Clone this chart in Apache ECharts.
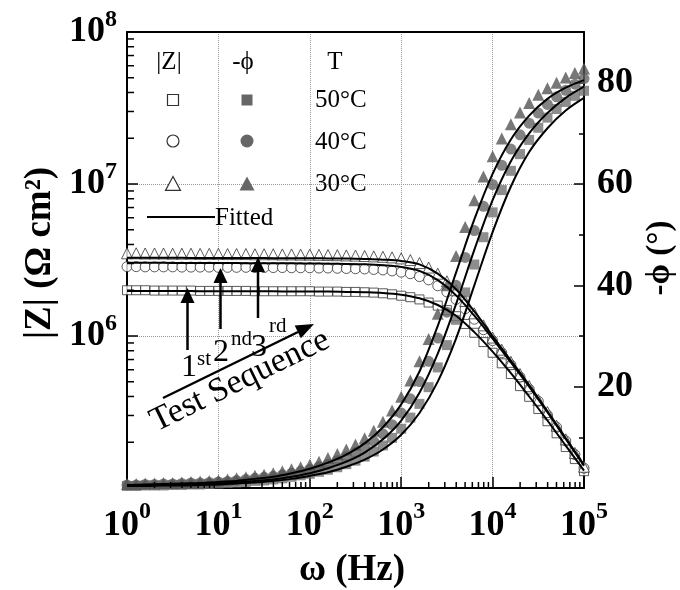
<!DOCTYPE html>
<html>
<head>
<meta charset="utf-8">
<script src="https://cdn.jsdelivr.net/npm/echarts@6/dist/echarts.min.js"></script>
<style>
  html, body { margin: 0; padding: 0; background: #fff; }
  #chart { width: 680px; height: 590px; }
</style>
</head>
<body>
<div id="chart"></div>
<script>
// Measured frequencies (Hz), 10 points per decade
const freq = [1, 1.26, 1.58, 2.0, 2.51, 3.16, 3.98, 5.01, 6.31, 7.94,
  10, 12.6, 15.8, 20.0, 25.1, 31.6, 39.8, 50.1, 63.1, 79.4,
  100, 126, 158, 200, 251, 316, 398, 501, 631, 794,
  1000, 1259, 1585, 1995, 2512, 3162, 3981, 5012, 6310, 7943,
  10000, 12589, 15849, 19953, 25119, 31623, 39811, 50119, 63096, 79433,
  100000];

// |Z| (ohm cm^2)
const zMag50 = [2.00e6, 2.00e6, 2.00e6, 1.99e6, 1.99e6, 1.99e6, 1.99e6, 1.99e6, 1.98e6, 1.98e6,
  1.98e6, 1.98e6, 1.98e6, 1.98e6, 1.97e6, 1.97e6, 1.97e6, 1.97e6, 1.97e6, 1.97e6,
  1.97e6, 1.96e6, 1.96e6, 1.96e6, 1.95e6, 1.95e6, 1.94e6, 1.93e6, 1.91e6, 1.88e6,
  1.84e6, 1.80e6, 1.74e6, 1.66e6, 1.585e6, 1.48e6, 1.35e6, 1.20e6, 1.05e6, 9.12e5,
  7.76e5, 6.61e5, 5.62e5, 4.68e5, 3.98e5, 3.31e5, 2.75e5, 2.29e5, 1.86e5, 1.55e5,
  1.29e5];
const zMag40 = [2.86e6, 2.86e6, 2.85e6, 2.85e6, 2.85e6, 2.85e6, 2.84e6, 2.84e6, 2.84e6, 2.84e6,
  2.83e6, 2.83e6, 2.83e6, 2.83e6, 2.82e6, 2.82e6, 2.82e6, 2.82e6, 2.81e6, 2.81e6,
  2.81e6, 2.80e6, 2.80e6, 2.79e6, 2.78e6, 2.77e6, 2.76e6, 2.74e6, 2.72e6, 2.68e6,
  2.63e6, 2.57e6, 2.46e6, 2.34e6, 2.14e6, 1.95e6, 1.74e6, 1.51e6, 1.29e6, 1.10e6,
  9.33e5, 7.76e5, 6.46e5, 5.37e5, 4.47e5, 3.72e5, 3.02e5, 2.51e5, 2.04e5, 1.66e5,
  1.35e5];
const zMag30 = [3.50e6, 3.50e6, 3.49e6, 3.49e6, 3.49e6, 3.48e6, 3.48e6, 3.48e6, 3.47e6, 3.47e6,
  3.47e6, 3.46e6, 3.46e6, 3.46e6, 3.45e6, 3.45e6, 3.45e6, 3.44e6, 3.44e6, 3.43e6,
  3.43e6, 3.42e6, 3.41e6, 3.40e6, 3.39e6, 3.38e6, 3.36e6, 3.34e6, 3.32e6, 3.29e6,
  3.24e6, 3.16e6, 3.02e6, 2.82e6, 2.57e6, 2.29e6, 2.00e6, 1.70e6, 1.41e6, 1.175e6,
  9.77e5, 8.13e5, 6.76e5, 5.62e5, 4.68e5, 3.80e5, 3.16e5, 2.57e5, 2.09e5, 1.70e5,
  1.38e5];

// -phase (degrees)
const phi50 = [0.4, 0.4, 0.5, 0.5, 0.5, 0.6, 0.6, 0.7, 0.7, 0.8,
  0.9, 1.0, 1.1, 1.2, 1.4, 1.5, 1.7, 1.9, 2.2, 2.5,
  2.8, 3.2, 3.6, 4.1, 4.7, 5.4, 6.2, 7.2, 8.4, 9.9,
  11.7, 13.9, 16.6, 19.9, 23.8, 28.2, 33.2, 38.6, 44.1, 49.5,
  54.4, 58.8, 62.6, 65.9, 68.7, 71.1, 73.1, 74.8, 76.2, 77.4,
  78.4];
const phi40 = [0.6, 0.6, 0.7, 0.7, 0.8, 0.8, 0.9, 1.0, 1.0, 1.1,
  1.2, 1.3, 1.5, 1.7, 1.9, 2.1, 2.3, 2.6, 2.9, 3.3,
  3.7, 4.2, 4.7, 5.4, 6.1, 7.0, 8.0, 9.2, 10.7, 12.5,
  14.8, 17.6, 21.0, 25.0, 29.6, 34.7, 40.0, 45.5, 50.8, 55.6,
  59.9, 63.7, 66.9, 69.7, 72.0, 74.0, 75.7, 77.2, 78.5, 79.7,
  80.8];
const phi30 = [0.8, 0.8, 0.9, 0.9, 1.0, 1.0, 1.1, 1.2, 1.3, 1.4,
  1.5, 1.7, 1.9, 2.1, 2.4, 2.6, 2.9, 3.3, 3.7, 4.1,
  4.6, 5.2, 5.9, 6.7, 7.6, 8.6, 9.8, 11.3, 13.1, 15.3,
  18.0, 21.2, 25.0, 29.4, 34.4, 40.0, 45.8, 51.5, 56.8, 61.5,
  65.5, 69.0, 71.8, 74.1, 76.0, 77.6, 78.9, 80.0, 81.0, 81.9,
  82.8];

// Equivalent-circuit fit, 5 points per decade
const fitFreq = [1, 1.58, 2.51, 3.98, 6.31, 10, 15.8, 25.1, 39.8, 63.1,
  100, 158, 251, 398, 631, 1000, 1585, 2512, 3981, 6310,
  10000, 15849, 25119, 39811, 63096, 100000];
const fitZ50 = [1.98e6, 1.98e6, 1.98e6, 1.98e6, 1.97e6, 1.97e6, 1.97e6, 1.97e6, 1.97e6, 1.96e6,
  1.96e6, 1.96e6, 1.95e6, 1.94e6, 1.92e6, 1.87e6, 1.77e6, 1.60e6, 1.36e6, 1.06e6,
  7.9e5, 5.7e5, 4.0e5, 2.78e5, 1.9e5, 1.3e5];
const fitZ40 = [3.03e6, 3.03e6, 3.03e6, 3.02e6, 3.02e6, 3.02e6, 3.02e6, 3.01e6, 3.01e6, 3.01e6,
  3.00e6, 2.99e6, 2.98e6, 2.96e6, 2.92e6, 2.85e6, 2.68e6, 2.33e6, 1.85e6, 1.36e6,
  9.6e5, 6.7e5, 4.65e5, 3.15e5, 2.1e5, 1.4e5];
const fitZ30 = [3.27e6, 3.27e6, 3.27e6, 3.27e6, 3.26e6, 3.26e6, 3.26e6, 3.26e6, 3.25e6, 3.25e6,
  3.25e6, 3.24e6, 3.23e6, 3.21e6, 3.18e6, 3.12e6, 2.96e6, 2.57e6, 2.03e6, 1.45e6,
  1.0e6, 6.9e5, 4.75e5, 3.2e5, 2.13e5, 1.42e5];
const fitPhi50 = [0.4, 0.4, 0.5, 0.5, 0.6, 0.7, 0.9, 1.1, 1.4, 1.8,
  2.4, 3.1, 4.2, 5.6, 7.6, 10.5, 14.8, 21.0, 29.5, 40.0,
  50.5, 59.5, 66.3, 71.0, 74.5, 77.0];
const fitPhi40 = [0.5, 0.6, 0.6, 0.7, 0.8, 0.9, 1.1, 1.4, 1.7, 2.2,
  2.9, 3.9, 5.2, 7.0, 9.6, 13.3, 18.8, 26.5, 36.3, 47.0,
  56.8, 64.5, 70.0, 74.0, 77.0, 79.2];
const fitPhi30 = [0.6, 0.7, 0.8, 0.9, 1.0, 1.2, 1.4, 1.8, 2.2, 2.9,
  3.8, 5.0, 6.6, 8.8, 12.0, 16.5, 23.0, 32.0, 42.5, 53.0,
  62.0, 68.8, 73.5, 76.8, 79.0, 80.5];

// Axis ranges
const freqRange = [1, 1e5];
const zRange = [1e5, 1e8];
const phiRange = [0, 90];

// Log-axis minor tick positions (2..9 within each decade)
const xMinorTicks = [];
for (let k = 0; k < 5; k++) for (let m = 2; m <= 9; m++) xMinorTicks.push(m * Math.pow(10, k));
const yMinorTicks = [];
for (let k = 5; k < 8; k++) for (let m = 2; m <= 9; m++) yMinorTicks.push(m * Math.pow(10, k));

const serif = '"Liberation Serif", "Times New Roman", serif';
const pair = (xs, ys) => xs.map((x, i) => [x, ys[i]]);

const powLabel = v => {
  const e = Math.round(Math.log10(v));
  return '{b|10}{s|' + e + '}';
};
// power-of-ten labels: raised exponent
const supStyle = { fontFamily: serif, fontWeight: 'bold', fontSize: 24, color: '#000', verticalAlign: 'top' };
const xRich = {
  b: { fontFamily: serif, fontWeight: 'bold', fontSize: 36, color: '#000', padding: [8, 0, 0, 0] },
  s: supStyle
};
const yRich = {
  b: { fontFamily: serif, fontWeight: 'bold', fontSize: 36, color: '#000', padding: [6, 0, 6, 0] },
  s: supStyle
};

const openStyle = { color: '#fff', borderColor: '#333', borderWidth: 1 };

function markers(name, xs, ys, yIdx, symbol, size, itemStyle) {
  return {
    name, type: 'scatter', xAxisIndex: 0, yAxisIndex: yIdx,
    symbol, symbolSize: size, data: pair(xs, ys), itemStyle, z: 3, silent: true
  };
}
function fitLine(name, xs, ys, yIdx) {
  return {
    name, type: 'line', xAxisIndex: 0, yAxisIndex: yIdx, data: pair(xs, ys),
    showSymbol: false, smooth: 0.35, lineStyle: { color: '#000', width: 2 }, z: 5, silent: true
  };
}

// Legend and annotation graphics
function txt(x, y, text, size, opts) {
  opts = opts || {};
  return {
    type: 'text', x, y, rotation: opts.rotation || 0, z: 20,
    style: {
      text, fill: '#000',
      font: (opts.bold ? 'bold ' : '') + size + 'px ' + serif,
      textAlign: opts.align || 'center', textVerticalAlign: 'middle',
      align: opts.align || 'center', verticalAlign: 'middle'
    }
  };
}
const gStroke = { stroke: '#333', lineWidth: 1.2, fill: '#fff' };
const gFill = { fill: '#666' };
const tri = (cx, cy, r) => [[cx, cy - r], [cx - r, cy + r * 0.85], [cx + r, cy + r * 0.85]];

const graphics = [
  // axis names
  txt(40, 253, '|Z| (Ω cm²)', 37, { bold: true, rotation: Math.PI / 2 }),
  txt(660, 258, '-ϕ (°)', 33, { bold: true, rotation: Math.PI / 2 }),
  txt(352, 570, 'ω (Hz)', 37, { bold: true }),
  // legend headers
  txt(169, 62, '|Z|', 25),
  txt(243, 62, '-ϕ', 25),
  txt(335, 62, 'T', 25),
  // legend rows
  { type: 'rect', shape: { x: 167.5, y: 94.5, width: 11, height: 11 }, style: gStroke, z: 20 },
  { type: 'rect', shape: { x: 241.5, y: 94.5, width: 11, height: 11 }, style: gFill, z: 20 },
  txt(315, 100, '50°C', 25, { align: 'left' }),
  { type: 'circle', shape: { cx: 173, cy: 141, r: 6 }, style: gStroke, z: 20 },
  { type: 'circle', shape: { cx: 247, cy: 141, r: 6.5 }, style: gFill, z: 20 },
  txt(315, 142, '40°C', 25, { align: 'left' }),
  { type: 'polygon', shape: { points: tri(173, 184, 7.5) }, style: gStroke, z: 20 },
  { type: 'polygon', shape: { points: tri(247, 184, 7.5) }, style: gFill, z: 20 },
  txt(315, 184, '30°C', 25, { align: 'left' }),
  { type: 'line', shape: { x1: 147, y1: 217, x2: 215, y2: 217 }, style: { stroke: '#000', lineWidth: 2 }, z: 20 },
  txt(215, 218, 'Fitted', 25, { align: 'left' }),
  // test-sequence arrows
  { type: 'line', shape: { x1: 187.5, y1: 350, x2: 187.5, y2: 300 }, style: { stroke: '#000', lineWidth: 2.5 }, z: 20 },
  { type: 'polygon', shape: { points: [[187.5, 288], [180.5, 303], [194.5, 303]] }, style: { fill: '#000' }, z: 20 },
  { type: 'line', shape: { x1: 220.5, y1: 329, x2: 220.5, y2: 280 }, style: { stroke: '#000', lineWidth: 2.5 }, z: 20 },
  { type: 'polygon', shape: { points: [[220.5, 268], [213.5, 283], [227.5, 283]] }, style: { fill: '#000' }, z: 20 },
  { type: 'line', shape: { x1: 258, y1: 318, x2: 258, y2: 269 }, style: { stroke: '#000', lineWidth: 2.5 }, z: 20 },
  { type: 'polygon', shape: { points: [[258, 257], [251, 272], [265, 272]] }, style: { fill: '#000' }, z: 20 },
  txt(181, 368, '1', 32, { align: 'left' }),
  txt(197, 359, 'st', 21, { align: 'left' }),
  txt(213, 353, '2', 32, { align: 'left' }),
  txt(231, 339, 'nd', 21, { align: 'left' }),
  txt(251, 348, '3', 32, { align: 'left' }),
  txt(269, 326, 'rd', 21, { align: 'left' }),
  { type: 'line', shape: { x1: 163, y1: 398, x2: 298, y2: 332 }, style: { stroke: '#000', lineWidth: 2.5 }, z: 20 },
  { type: 'polygon', shape: { points: [[314, 324], [300.9, 338.2], [294.7, 325.6]] }, style: { fill: '#000' }, z: 20 },
  txt(240, 381, 'Test Sequence', 34, { rotation: 26 * Math.PI / 180 })
];

const chart = echarts.init(document.getElementById('chart'), null, { renderer: 'canvas' });
chart.setOption({
  animation: false,
  backgroundColor: '#fff',
  grid: { left: 127, top: 32, width: 457, height: 456, containLabel: false },
  xAxis: [
    {
      type: 'log', logBase: 10, min: freqRange[0], max: freqRange[1], position: 'bottom',
      axisLine: { lineStyle: { color: '#000', width: 2 } },
      axisTick: { inside: true, length: 11, lineStyle: { color: '#000', width: 1.5 } },
      axisLabel: { formatter: powLabel, rich: xRich, margin: 12 },
      splitLine: { show: true, lineStyle: { type: 'dotted', color: '#999', width: 1 } }
    },
    {
      type: 'log', logBase: 10, min: freqRange[0], max: freqRange[1], position: 'top',
      axisLine: { show: true, lineStyle: { color: '#000', width: 2 } },
      axisTick: { show: false }, axisLabel: { show: false }, splitLine: { show: false }
    }
  ],
  yAxis: [
    {
      type: 'log', logBase: 10, min: zRange[0], max: zRange[1], position: 'left',
      axisLine: { show: true, lineStyle: { color: '#000', width: 2 } },
      axisTick: { show: true, inside: true, length: 11, lineStyle: { color: '#000', width: 1.5 } },
      axisLabel: {
        formatter: v => (Math.round(Math.log10(v)) === 5 ? '' : powLabel(v)),
        rich: yRich, margin: 10
      },
      splitLine: { show: true, lineStyle: { type: 'dotted', color: '#999', width: 1 } }
    },
    {
      type: 'value', min: phiRange[0], max: phiRange[1], interval: 20, position: 'right',
      axisLine: { show: true, lineStyle: { color: '#000', width: 2 } },
      axisTick: { show: true, inside: true, length: 10, lineStyle: { color: '#000', width: 1.5 } },
      minorTick: { show: true, splitNumber: 2, length: 5, lineStyle: { color: '#000', width: 1.5 } },
      axisLabel: {
        formatter: v => (v === 0 || v === 90 ? '' : String(v)),
        fontFamily: serif, fontWeight: 'bold', fontSize: 36, color: '#000', margin: 13
      },
      splitLine: { show: false }
    }
  ],
  series: [
    markers('|Z| 50°C', freq, zMag50, 0, 'rect', 9, openStyle),
    markers('|Z| 40°C', freq, zMag40, 0, 'circle', 10, openStyle),
    markers('|Z| 30°C', freq, zMag30, 0, 'triangle', 11, openStyle),
    markers('-ϕ 50°C', freq, phi50, 1, 'rect', 10, { color: '#707070' }),
    markers('-ϕ 40°C', freq, phi40, 1, 'circle', 11, { color: '#646464' }),
    markers('-ϕ 30°C', freq, phi30, 1, 'triangle', 12, { color: '#555' }),
    fitLine('fit |Z| 50°C', fitFreq, fitZ50, 0),
    fitLine('fit |Z| 40°C', fitFreq, fitZ40, 0),
    fitLine('fit |Z| 30°C', fitFreq, fitZ30, 0),
    fitLine('fit -ϕ 50°C', fitFreq, fitPhi50, 1),
    fitLine('fit -ϕ 40°C', fitFreq, fitPhi40, 1),
    fitLine('fit -ϕ 30°C', fitFreq, fitPhi30, 1),
    {
      type: 'custom', xAxisIndex: 0, yAxisIndex: 0, silent: true, z: 6,
      data: xMinorTicks.map(v => [v, zRange[0]]),
      encode: { x: 0, y: 1 },
      renderItem: (params, api) => {
        const p = api.coord([api.value(0), zRange[0]]);
        return { type: 'line', shape: { x1: p[0], y1: p[1], x2: p[0], y2: p[1] - 6 },
          style: { stroke: '#000', lineWidth: 1.5 } };
      }
    },
    {
      type: 'custom', xAxisIndex: 0, yAxisIndex: 0, silent: true, z: 6,
      data: yMinorTicks.map(v => [freqRange[0], v]),
      encode: { x: 0, y: 1 },
      renderItem: (params, api) => {
        const p = api.coord([freqRange[0], api.value(1)]);
        return { type: 'line', shape: { x1: p[0], y1: p[1], x2: p[0] + 7, y2: p[1] },
          style: { stroke: '#000', lineWidth: 1.5 } };
      }
    }
  ],
  graphic: graphics
});
</script>
</body>
</html>
